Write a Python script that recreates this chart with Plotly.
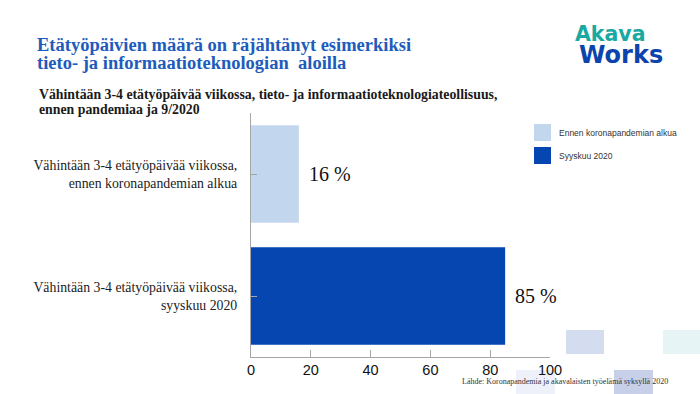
import plotly.graph_objects as go

categories = [
    "Vähintään 3-4 etätyöpäivää viikossa,<br>ennen koronapandemian alkua",
    "Vähintään 3-4 etätyöpäivää viikossa,<br>syyskuu 2020",
]
values = [16, 85]
value_labels = ["16 %", "85 %"]
series_names = ["Ennen koronapandemian alkua", "Syyskuu 2020"]
colors = ["#c2d6ee", "#0546b1"]
x_ticks = [0, 20, 40, 60, 80, 100]

SERIF = "Liberation Serif, DejaVu Serif, serif"
SANS = "Liberation Sans, Arial, sans-serif"
LOGO = "DejaVu Sans, Liberation Sans, sans-serif"

fig = go.Figure()
for i in range(len(categories)):
    fig.add_trace(go.Bar(
        x=[values[i]], y=[categories[i]], orientation="h",
        marker=dict(color=colors[i], line=dict(width=0)),
        name=series_names[i], showlegend=False, hoverinfo="skip",
    ))

annotations = []
for i in range(len(categories)):
    annotations.append(dict(
        x=values[i], y=categories[i], xref="x", yref="y",
        text=value_labels[i], showarrow=False, xanchor="left", xshift=8,
        font=dict(family=SERIF, size=20, color="#111111"),
    ))

TITLE_C = "#1e5cbc"
annotations += [
    dict(x=35, y=394-45, xref="paper", yref="paper", text="<b>Etätyöpäivien määrä on räjähtänyt esimerkiksi</b>",
         showarrow=False, xanchor="left", yanchor="middle",
         font=dict(family=SERIF, size=18.5, color=TITLE_C)),
    dict(x=35, y=394-63, xref="paper", yref="paper", text="<b>tieto- ja informaatioteknologian  aloilla</b>",
         showarrow=False, xanchor="left", yanchor="middle",
         font=dict(family=SERIF, size=18.5, color=TITLE_C)),
    dict(x=37, y=394-94, xref="paper", yref="paper", text="<b>Vähintään 3-4 etätyöpäivää viikossa, tieto- ja informaatioteknologiateollisuus,</b>",
         showarrow=False, xanchor="left", yanchor="middle",
         font=dict(family=SERIF, size=13.8, color="#1a1a1a")),
    dict(x=37, y=394-110, xref="paper", yref="paper", text="<b>ennen pandemiaa ja 9/2020</b>",
         showarrow=False, xanchor="left", yanchor="middle",
         font=dict(family=SERIF, size=13.8, color="#1a1a1a")),
    dict(x=670, y=394-381, xref="paper", yref="paper", text="Lähde: Koronapandemia ja akavalaisten työelämä syksyllä 2020",
         showarrow=False, xanchor="right", yanchor="middle",
         font=dict(family=SERIF, size=8, color="#333333")),
    dict(x=573, y=394-34, xref="paper", yref="paper", text="<b>Akava</b>",
         showarrow=False, xanchor="left", yanchor="middle",
         font=dict(family=LOGO, size=20.5, color="#1aa9a1")),
    dict(x=577, y=394-55, xref="paper", yref="paper", text="<b>Works</b>",
         showarrow=False, xanchor="left", yanchor="middle",
         font=dict(family=LOGO, size=24, color="#0b44ad")),
]

shapes = []
# decorative squares
for (x0, y0, x1, y1, c) in [(566, 330, 604, 354, "#d4dcef"), (663, 330, 700, 354, "#e7f4f6"),
                             (516, 370, 555, 394, "#eef1f9"), (614, 370, 653, 394, "#c8cfe8")]:
    shapes.append(dict(type="rect", xref="paper", yref="paper", x0=x0, x1=x1, y0=394-y1, y1=394-y0,
                       fillcolor=c, line=dict(width=0), layer="below"))

# legend
for i, name in enumerate(series_names):
    ytop = 124 + i * 23
    shapes.append(dict(type="rect", xref="paper", yref="paper", x0=534, x1=551, y0=394-(ytop+17), y1=394-ytop,
                       fillcolor=colors[i], line=dict(width=0)))
    annotations.append(dict(x=557, y=394-(ytop+9), xref="paper", yref="paper", text=name,
                            showarrow=False, xanchor="left", yanchor="middle",
                            font=dict(family=SANS, size=8.5, color="#333333")))

W, H = 700, 394
for a in annotations:
    if a.get("xref") == "paper":
        a["x"] = (a["x"] - 251) / 299
        a["y"] = (a["y"] - 37) / 244
for s in shapes:
    s["x0"] = (s["x0"] - 251) / 299
    s["x1"] = (s["x1"] - 251) / 299
    s["y0"] = (s["y0"] - 37) / 244
    s["y1"] = (s["y1"] - 37) / 244

fig.update_layout(
    width=W, height=H,
    margin=dict(l=251, r=150, t=113, b=37, pad=0, autoexpand=False),
    paper_bgcolor="white", plot_bgcolor="white",
    bargap=0.2,
    annotations=annotations, shapes=shapes,
    xaxis=dict(range=[0, 100], tickvals=x_ticks, showgrid=False, zeroline=False,
               showline=True, linecolor="#a6a6a6", linewidth=1,
               ticks="inside", ticklen=7, tickcolor="#a6a6a6",
               tickfont=dict(family=SANS, size=14.5, color="#111111")),
    yaxis=dict(autorange="reversed", showgrid=False, zeroline=False,
               showline=True, linecolor="#a6a6a6", linewidth=1,
               ticks="inside", ticklen=6, tickcolor="#a6a6a6",
               ticklabelstandoff=10,
               tickfont=dict(family=SERIF, size=13.8, color="#222222")),
)

fig.write_html("out.html", config={"displayModeBar": False},
               post_script="document.body.style.margin='0';document.body.style.overflow='hidden';")
